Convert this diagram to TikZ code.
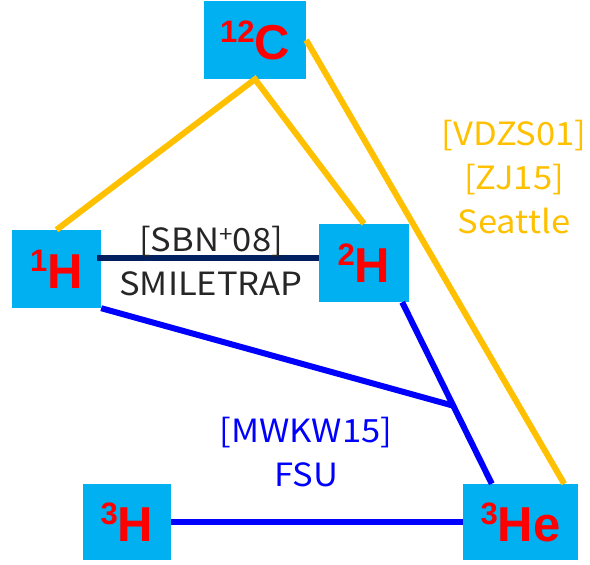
\documentclass[tikz,border=0pt]{standalone}
\usepackage{fontspec}
\setmainfont{Liberation Sans}
\newfontfamily\reffont[FakeStretch=1.08]{Noto Sans CJK SC}
\usetikzlibrary{calc}

\definecolor{boxblue}{HTML}{00B0F0}
\definecolor{gold}{HTML}{FFC000}
\definecolor{navy}{HTML}{002060}
\definecolor{pureblue}{HTML}{0000FF}

% isotope label: mass number raised, symbol large
\newcommand{\iso}[2]{\raisebox{17pt}{\fontsize{31}{31}\selectfont #1}{\fontsize{49}{49}\selectfont #2}}

\begin{document}
\begin{tikzpicture}[x=1pt,y=-1pt,
    nucl/.style={fill=boxblue,text=red,font=\bfseries,inner sep=0pt,minimum height=78pt},
    reftext/.style={font=\reffont\fontsize{32}{44}\selectfont,align=center},
    goldline/.style={gold,line width=6pt},
    blueline/.style={pureblue,line width=6pt},
    navyline/.style={navy,line width=6pt}]
    \useasboundingbox (0,0) rectangle (590,565);

    % Nuclei
    \node[nucl,minimum width=102pt] (c12) at (255,40) {\iso{12}{C}};
    \node[nucl,minimum width=89pt] (h1) at (56.5,269) {\iso{1}{H}};
    \node[nucl,minimum width=90pt] (h2) at (364,263) {\iso{2}{H}};
    \node[nucl,minimum width=88pt,minimum height=76pt] (h3) at (127,522) {\iso{3}{H}};
    \node[nucl,minimum width=115pt,minimum height=76pt] (he3) at (520.5,522) {\iso{3}{He}};

    % Seattle
    \draw[goldline] (h1.north) -- (c12.south) -- (h2.north);
    \draw[goldline] (c12.east) -- ([xshift=-14pt]he3.north east);

    % SMILETRAP
    \draw[navyline] ([xshift=-4pt,yshift=11pt]h1.east) -- ([yshift=11pt]h1.east -| h2.west);

    % FSU
    \coordinate (fork) at ($([xshift=-7pt]h2.south east)!0.57!([xshift=29pt]he3.north west)$);
    \draw[blueline] ([xshift=-7pt]h2.south east) -- ([xshift=29pt]he3.north west);
    \draw[blueline] (h1.south east) -- (fork);
    \draw[blueline] (h3.east) -- (he3.west);

    % References
    \node[reftext,text=black!85] (smile) at (211,261) {[SBN\textsuperscript{+}08]\\SMILETRAP};
    \node[reftext,text=pureblue] (fsu) at (306,452) {[MWKW15]\\FSU};
    \node[reftext,text=gold] (seattle) at (514,177) {[VDZS01]\\{[ZJ15]}\\Seattle};
\end{tikzpicture}
\end{document}
